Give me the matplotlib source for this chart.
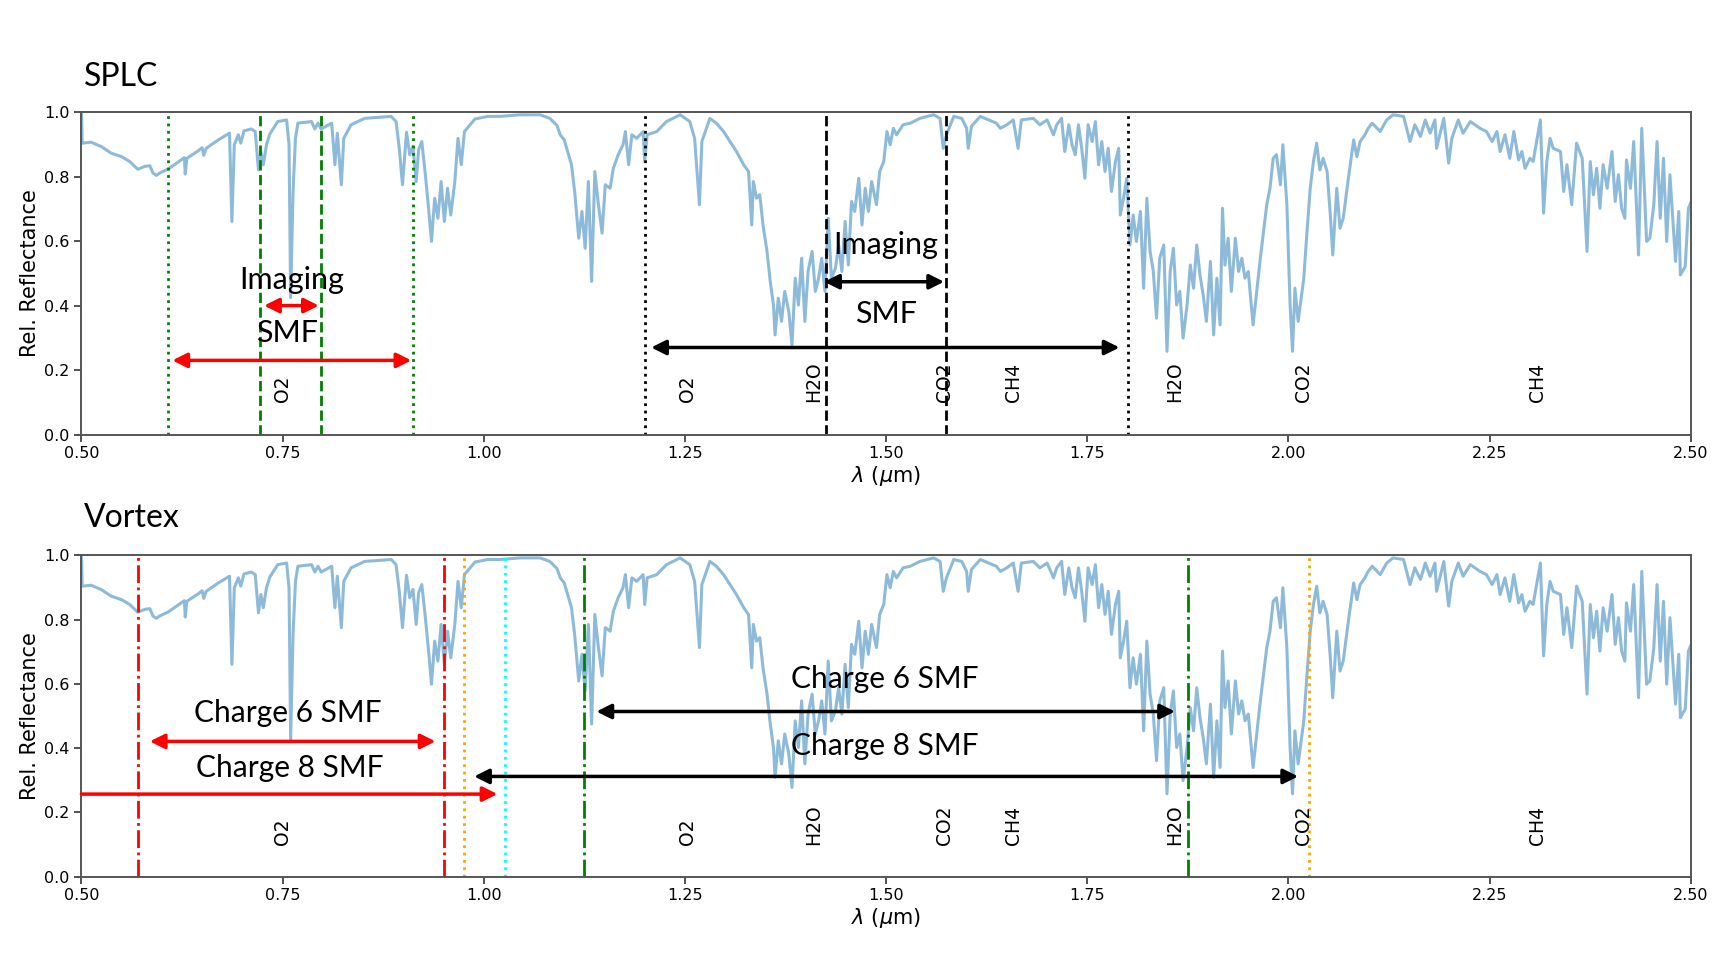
import matplotlib
matplotlib.use("Agg")
import matplotlib.pyplot as plt

# reflectance spectrum
wavelength = [
    0.500, 0.501, 0.512, 0.525, 0.537, 0.550, 0.560, 0.570, 0.579, 0.585, 0.589, 0.593, 0.597,
    0.608, 0.624, 0.628, 0.629, 0.631, 0.645, 0.650, 0.652, 0.655, 0.670, 0.684, 0.687, 0.690,
    0.695, 0.698, 0.702, 0.711, 0.716, 0.720, 0.723, 0.726, 0.730, 0.734, 0.744, 0.755, 0.758,
    0.760, 0.763, 0.766, 0.769, 0.786, 0.790, 0.794, 0.798, 0.811, 0.815, 0.818, 0.823, 0.826,
    0.835, 0.852, 0.885, 0.891, 0.895, 0.899, 0.904, 0.908, 0.912, 0.916, 0.919, 0.923, 0.927,
    0.931, 0.935, 0.939, 0.943, 0.947, 0.951, 0.955, 0.959, 0.964, 0.968, 0.972, 0.976, 0.989,
    1.005, 1.020, 1.045,
    1.070, 1.082, 1.091, 1.095, 1.100, 1.103, 1.109, 1.113, 1.118, 1.122, 1.126, 1.130, 1.134,
    1.138, 1.142, 1.147, 1.151, 1.157, 1.161, 1.167, 1.173, 1.176, 1.180, 1.184, 1.190, 1.198,
    1.200, 1.203, 1.215, 1.227, 1.244, 1.256, 1.262, 1.268, 1.271, 1.281, 1.289, 1.298, 1.306,
    1.314, 1.323, 1.329, 1.333, 1.335, 1.339, 1.343, 1.347, 1.352, 1.356, 1.360, 1.362, 1.366,
    1.370, 1.374, 1.379, 1.383, 1.387, 1.391, 1.395, 1.399, 1.403, 1.408, 1.412, 1.416, 1.420,
    1.424, 1.428, 1.432, 1.437, 1.441, 1.445, 1.449, 1.453, 1.457, 1.461, 1.466, 1.470, 1.474,
    1.478, 1.482, 1.488, 1.492, 1.497, 1.501, 1.505, 1.509, 1.513, 1.521,
    1.530, 1.542, 1.559, 1.567, 1.571, 1.575, 1.584, 1.594, 1.600, 1.602, 1.606, 1.617, 1.637,
    1.642, 1.650, 1.658, 1.664, 1.668, 1.683, 1.691, 1.700, 1.708, 1.712, 1.718, 1.722, 1.727,
    1.731, 1.735, 1.739, 1.743, 1.747, 1.751, 1.756, 1.760, 1.764, 1.768, 1.772, 1.776, 1.780,
    1.785, 1.789, 1.791, 1.795, 1.799, 1.803, 1.807, 1.811, 1.816, 1.820, 1.824, 1.828, 1.832,
    1.836, 1.840, 1.845, 1.849, 1.853, 1.857, 1.861, 1.865, 1.869, 1.874, 1.878, 1.882, 1.886,
    1.890, 1.894, 1.898, 1.903, 1.907, 1.911, 1.915, 1.918, 1.921, 1.925, 1.929, 1.934, 1.938,
    1.942, 1.946, 1.950, 1.956, 1.961, 1.965, 1.969, 1.973, 1.977, 1.981, 1.985, 1.990, 1.993,
    1.998, 2.002, 2.005, 2.008, 2.012,
    2.019, 2.023, 2.027, 2.031, 2.035, 2.039, 2.043, 2.048, 2.052, 2.055, 2.060, 2.064, 2.068,
    2.075, 2.081, 2.085, 2.089, 2.095, 2.099, 2.104, 2.114, 2.122, 2.130, 2.143, 2.151, 2.157,
    2.164, 2.170, 2.176, 2.182, 2.184, 2.193, 2.199, 2.203, 2.211, 2.217, 2.226, 2.238, 2.246,
    2.253, 2.259, 2.263, 2.269, 2.275, 2.280, 2.286, 2.290, 2.294, 2.300, 2.304, 2.313, 2.317,
    2.321, 2.325, 2.329, 2.338, 2.342, 2.346, 2.352, 2.358, 2.365, 2.371, 2.375, 2.379, 2.383,
    2.387, 2.391, 2.396, 2.402, 2.406, 2.410, 2.414, 2.418, 2.420, 2.425, 2.429, 2.435, 2.439,
    2.445, 2.449, 2.454, 2.458, 2.462, 2.466, 2.470, 2.474, 2.481, 2.485, 2.487, 2.493, 2.497,
    2.500,
]
reflectance = [
    1.000, 0.904, 0.907, 0.893, 0.873, 0.862, 0.847, 0.823, 0.832, 0.834, 0.811, 0.804, 0.811,
    0.824, 0.852, 0.859, 0.808, 0.857, 0.880, 0.890, 0.866, 0.888, 0.914, 0.935, 0.661, 0.899,
    0.930, 0.904, 0.942, 0.948, 0.940, 0.821, 0.878, 0.837, 0.899, 0.932, 0.971, 0.976, 0.899,
    0.425, 0.754, 0.919, 0.966, 0.971, 0.948, 0.966, 0.948, 0.966, 0.837, 0.935, 0.775, 0.919,
    0.961, 0.981, 0.987, 0.971, 0.888, 0.775, 0.938, 0.868, 0.894, 0.785, 0.883, 0.909, 0.816,
    0.713, 0.599, 0.733, 0.671, 0.785, 0.661, 0.764, 0.681, 0.785, 0.919, 0.837, 0.940, 0.979,
    0.987, 0.987, 0.992,
    0.992, 0.981, 0.959, 0.930, 0.914, 0.888, 0.837, 0.752, 0.609, 0.692, 0.578, 0.785, 0.475,
    0.816, 0.723, 0.625, 0.775, 0.764, 0.826, 0.868, 0.899, 0.940, 0.837, 0.930, 0.919, 0.940,
    0.847, 0.930, 0.940, 0.971, 0.992, 0.971, 0.919, 0.713, 0.909, 0.981, 0.966, 0.940, 0.909,
    0.878, 0.837, 0.816, 0.650, 0.785, 0.733, 0.744, 0.650, 0.568, 0.475, 0.402, 0.309, 0.423,
    0.351, 0.444, 0.382, 0.278, 0.485, 0.402, 0.547, 0.351, 0.506, 0.568, 0.444, 0.485, 0.547,
    0.444, 0.671, 0.485, 0.516, 0.588, 0.506, 0.661, 0.526, 0.723, 0.692, 0.795, 0.650, 0.764,
    0.692, 0.785, 0.713, 0.816, 0.847, 0.940, 0.899, 0.950, 0.930, 0.961,
    0.966, 0.981, 0.992, 0.981, 0.888, 0.930, 0.987, 0.981, 0.950, 0.888, 0.956, 0.987, 0.966,
    0.950, 0.961, 0.976, 0.888, 0.976, 0.981, 0.961, 0.976, 0.930, 0.961, 0.981, 0.878, 0.961,
    0.899, 0.868, 0.961, 0.888, 0.795, 0.961, 0.909, 0.971, 0.837, 0.909, 0.816, 0.888, 0.754,
    0.847, 0.888, 0.681, 0.733, 0.795, 0.588, 0.681, 0.599, 0.692, 0.454, 0.733, 0.568, 0.506,
    0.361, 0.547, 0.588, 0.258, 0.506, 0.578, 0.402, 0.444, 0.299, 0.402, 0.526, 0.454, 0.588,
    0.495, 0.433, 0.351, 0.537, 0.309, 0.485, 0.340, 0.702, 0.526, 0.609, 0.444, 0.609, 0.506,
    0.547, 0.485, 0.506, 0.340, 0.454, 0.547, 0.630, 0.713, 0.764, 0.857, 0.868, 0.775, 0.899,
    0.713, 0.402, 0.258, 0.454, 0.351,
    0.485, 0.630, 0.764, 0.847, 0.904, 0.821, 0.857, 0.816, 0.681, 0.557, 0.764, 0.640, 0.671,
    0.806, 0.914, 0.862, 0.909, 0.930, 0.950, 0.966, 0.940, 0.976, 0.992, 0.987, 0.909, 0.961,
    0.925, 0.976, 0.935, 0.976, 0.888, 0.981, 0.842, 0.919, 0.976, 0.935, 0.971, 0.950, 0.940,
    0.909, 0.940, 0.878, 0.930, 0.857, 0.940, 0.852, 0.878, 0.826, 0.857, 0.847, 0.976, 0.687,
    0.847, 0.919, 0.888, 0.878, 0.754, 0.837, 0.713, 0.904, 0.857, 0.568, 0.847, 0.744, 0.826,
    0.702, 0.837, 0.764, 0.878, 0.723, 0.806, 0.702, 0.671, 0.852, 0.764, 0.909, 0.557, 0.950,
    0.599, 0.609, 0.713, 0.909, 0.671, 0.857, 0.599, 0.806, 0.537, 0.692, 0.495, 0.521, 0.702,
    0.720,
]

# band edges (um)
splc_smf_edges = [0.608, 0.912, 1.2, 1.8]
splc_imaging_edges = [0.722, 0.798, 1.425, 1.575]
vortex_c6_edges = [0.57, 0.95, 1.125, 1.875]
vortex_c8_edges = [0.975, 2.025]
vortex_c8_blue_edge = [1.026]

# molecule labels
molecules = ["O2", "O2", "H2O", "CO2", "CH4", "H2O", "CO2", "CH4"]
molecule_x = [0.750, 1.253, 1.410, 1.573, 1.658, 1.859, 2.019, 2.309]

# arrows: (start, end, height)
splc_arrows_red = [(0.727, 0.795, 0.40), (0.613, 0.910, 0.23)]
splc_arrows_black = [(1.423, 1.572, 0.474), (1.208, 1.790, 0.27)]
splc_texts = [("Imaging", 0.761, 0.48), ("SMF", 0.756, 0.314),
              ("Imaging", 1.50, 0.587), ("SMF", 1.50, 0.375)]
vortex_arrows_red = [(0.585, 0.940, 0.421)]
vortex_arrow_red_one_way = (0.50, 1.017, 0.257)
vortex_arrows_black = [(1.140, 1.859, 0.514), (0.988, 2.012, 0.312)]
vortex_texts = [("Charge 6 SMF", 0.757, 0.51), ("Charge 8 SMF", 0.759, 0.339),
                ("Charge 6 SMF", 1.498, 0.616), ("Charge 8 SMF", 1.498, 0.408)]

ANNOT_FONT = "Lato"


def setup_axes(ax):
    ax.plot(wavelength, reflectance, color="#1f77b4", alpha=0.5, lw=2.2, zorder=2)
    ax.set_xlim(0.5, 2.5)
    ax.set_ylim(0.0, 1.0)
    ax.set_xticks([0.5, 0.75, 1.0, 1.25, 1.5, 1.75, 2.0, 2.25, 2.5])
    ax.set_xticklabels([f"{v:.2f}" for v in ax.get_xticks()])
    ax.set_yticks([0.0, 0.2, 0.4, 0.6, 0.8, 1.0])
    ax.tick_params(labelsize=11.5, length=5, width=1.2, colors="#333333", labelcolor="black")
    for spine in ax.spines.values():
        spine.set_color("#555555")
        spine.set_linewidth(1.4)
    ax.set_xlabel(r"$\lambda$ ($\mu$m)", fontsize=15, labelpad=2)
    ax.set_ylabel("Rel. Reflectance", fontsize=15, labelpad=3)
    for name, x in zip(molecules, molecule_x):
        ax.text(x, 0.1, name, rotation=90, ha="center", va="bottom", fontsize=13.5)


def arrow(ax, x0, x1, y, color, style="<|-|>"):
    ax.annotate("", xy=(x1, y), xytext=(x0, y),
                arrowprops=dict(arrowstyle=style, color=color, lw=2.5,
                                mutation_scale=22, shrinkA=0, shrinkB=0),
                annotation_clip=False, zorder=4)


fig = plt.figure(figsize=(17.25, 9.55), dpi=100)
ax1 = fig.add_axes([0.0472, 0.545, 0.933, 0.3375])
ax2 = fig.add_axes([0.0472, 0.082, 0.933, 0.3365])

# SPLC panel
setup_axes(ax1)
for i, x in enumerate(splc_smf_edges):
    ax1.axvline(x, color="green" if i < 2 else "black", ls=":", lw=2)
for i, x in enumerate(splc_imaging_edges):
    ax1.axvline(x, color="green" if i < 2 else "black", ls="--", lw=2)
for x0, x1, y in splc_arrows_red:
    arrow(ax1, x0, x1, y, "red")
for x0, x1, y in splc_arrows_black:
    arrow(ax1, x0, x1, y, "black")
for s, x, y in splc_texts:
    ax1.text(x, y, s, ha="center", va="center", fontsize=22, family=ANNOT_FONT, zorder=5)

# Vortex panel
setup_axes(ax2)
for i, x in enumerate(vortex_c6_edges):
    ax2.axvline(x, color="red" if i < 2 else "green", ls="-.", lw=2)
for x in vortex_c8_edges:
    ax2.axvline(x, color="orange", ls=":", lw=2)
for x in vortex_c8_blue_edge:
    ax2.axvline(x, color="cyan", ls=":", lw=2)
for x0, x1, y in vortex_arrows_red:
    arrow(ax2, x0, x1, y, "red")
x0, x1, y = vortex_arrow_red_one_way
arrow(ax2, x0, x1, y, "red", style="-|>")
for x0, x1, y in vortex_arrows_black:
    arrow(ax2, x0, x1, y, "black")
for s, x, y in vortex_texts:
    ax2.text(x, y, s, ha="center", va="center", fontsize=21.5, family=ANNOT_FONT, zorder=5)

fig.text(0.0485, 0.919, "SPLC", fontsize=23, family=ANNOT_FONT, va="center")
fig.text(0.0485, 0.4575, "Vortex", fontsize=23, family=ANNOT_FONT, va="center")

fig.savefig("out.png", dpi=100)
